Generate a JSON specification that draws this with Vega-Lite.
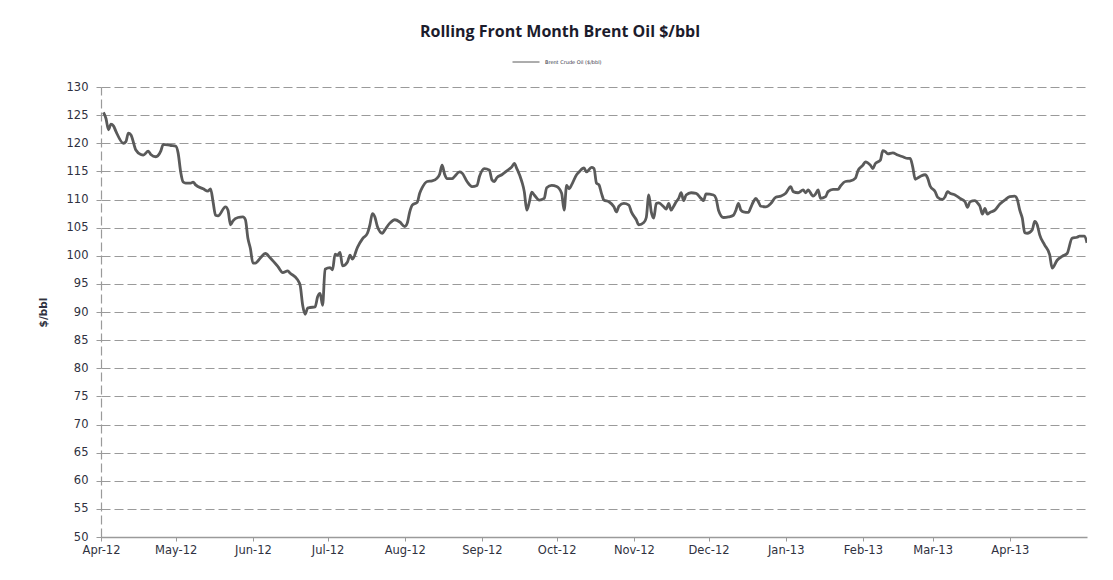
{
  "$schema": "https://vega.github.io/schema/vega-lite/v6.json",
  "width": 986,
  "height": 450,
  "autosize": "none",
  "padding": {"left": 101, "top": 87, "right": 26, "bottom": 43},
  "background": "#ffffff",
  "title": {
    "text": "Rolling Front Month Brent Oil $/bbl",
    "font": "Open Sans",
    "fontSize": 16,
    "fontWeight": "bold",
    "color": "#1c1c2c",
    "anchor": "middle",
    "frame": "group",
    "dx": -34,
    "offset": 8
  },
  "data": {
    "values": [
      {"date": "2012-04-02", "price": 125.5, "series": "Brent Crude Oil ($/bbl)"},
      {"date": "2012-04-03", "price": 124.4, "series": "Brent Crude Oil ($/bbl)"},
      {"date": "2012-04-04", "price": 122.4, "series": "Brent Crude Oil ($/bbl)"},
      {"date": "2012-04-05", "price": 123.4, "series": "Brent Crude Oil ($/bbl)"},
      {"date": "2012-04-06", "price": 123.1, "series": "Brent Crude Oil ($/bbl)"},
      {"date": "2012-04-07", "price": 122.1, "series": "Brent Crude Oil ($/bbl)"},
      {"date": "2012-04-10", "price": 120.0, "series": "Brent Crude Oil ($/bbl)"},
      {"date": "2012-04-11", "price": 120.3, "series": "Brent Crude Oil ($/bbl)"},
      {"date": "2012-04-12", "price": 121.8, "series": "Brent Crude Oil ($/bbl)"},
      {"date": "2012-04-13", "price": 121.5, "series": "Brent Crude Oil ($/bbl)"},
      {"date": "2012-04-15", "price": 118.8, "series": "Brent Crude Oil ($/bbl)"},
      {"date": "2012-04-17", "price": 118.0, "series": "Brent Crude Oil ($/bbl)"},
      {"date": "2012-04-18", "price": 117.9, "series": "Brent Crude Oil ($/bbl)"},
      {"date": "2012-04-20", "price": 118.6, "series": "Brent Crude Oil ($/bbl)"},
      {"date": "2012-04-21", "price": 118.0, "series": "Brent Crude Oil ($/bbl)"},
      {"date": "2012-04-23", "price": 117.6, "series": "Brent Crude Oil ($/bbl)"},
      {"date": "2012-04-25", "price": 118.6, "series": "Brent Crude Oil ($/bbl)"},
      {"date": "2012-04-26", "price": 119.8, "series": "Brent Crude Oil ($/bbl)"},
      {"date": "2012-04-29", "price": 119.6, "series": "Brent Crude Oil ($/bbl)"},
      {"date": "2012-05-01", "price": 119.5, "series": "Brent Crude Oil ($/bbl)"},
      {"date": "2012-05-02", "price": 118.2, "series": "Brent Crude Oil ($/bbl)"},
      {"date": "2012-05-03", "price": 114.9, "series": "Brent Crude Oil ($/bbl)"},
      {"date": "2012-05-04", "price": 113.1, "series": "Brent Crude Oil ($/bbl)"},
      {"date": "2012-05-05", "price": 112.9, "series": "Brent Crude Oil ($/bbl)"},
      {"date": "2012-05-07", "price": 112.9, "series": "Brent Crude Oil ($/bbl)"},
      {"date": "2012-05-08", "price": 113.1, "series": "Brent Crude Oil ($/bbl)"},
      {"date": "2012-05-09", "price": 112.6, "series": "Brent Crude Oil ($/bbl)"},
      {"date": "2012-05-12", "price": 111.9, "series": "Brent Crude Oil ($/bbl)"},
      {"date": "2012-05-14", "price": 111.5, "series": "Brent Crude Oil ($/bbl)"},
      {"date": "2012-05-15", "price": 111.9, "series": "Brent Crude Oil ($/bbl)"},
      {"date": "2012-05-16", "price": 109.6, "series": "Brent Crude Oil ($/bbl)"},
      {"date": "2012-05-17", "price": 107.2, "series": "Brent Crude Oil ($/bbl)"},
      {"date": "2012-05-18", "price": 107.1, "series": "Brent Crude Oil ($/bbl)"},
      {"date": "2012-05-21", "price": 108.7, "series": "Brent Crude Oil ($/bbl)"},
      {"date": "2012-05-22", "price": 108.1, "series": "Brent Crude Oil ($/bbl)"},
      {"date": "2012-05-23", "price": 105.5, "series": "Brent Crude Oil ($/bbl)"},
      {"date": "2012-05-24", "price": 106.2, "series": "Brent Crude Oil ($/bbl)"},
      {"date": "2012-05-26", "price": 106.8, "series": "Brent Crude Oil ($/bbl)"},
      {"date": "2012-05-28", "price": 106.9, "series": "Brent Crude Oil ($/bbl)"},
      {"date": "2012-05-29", "price": 106.4, "series": "Brent Crude Oil ($/bbl)"},
      {"date": "2012-05-30", "price": 103.1, "series": "Brent Crude Oil ($/bbl)"},
      {"date": "2012-05-31", "price": 101.3, "series": "Brent Crude Oil ($/bbl)"},
      {"date": "2012-06-01", "price": 98.7, "series": "Brent Crude Oil ($/bbl)"},
      {"date": "2012-06-02", "price": 98.7, "series": "Brent Crude Oil ($/bbl)"},
      {"date": "2012-06-04", "price": 99.6, "series": "Brent Crude Oil ($/bbl)"},
      {"date": "2012-06-06", "price": 100.4, "series": "Brent Crude Oil ($/bbl)"},
      {"date": "2012-06-08", "price": 99.6, "series": "Brent Crude Oil ($/bbl)"},
      {"date": "2012-06-11", "price": 98.1, "series": "Brent Crude Oil ($/bbl)"},
      {"date": "2012-06-13", "price": 97.0, "series": "Brent Crude Oil ($/bbl)"},
      {"date": "2012-06-15", "price": 97.3, "series": "Brent Crude Oil ($/bbl)"},
      {"date": "2012-06-16", "price": 96.9, "series": "Brent Crude Oil ($/bbl)"},
      {"date": "2012-06-19", "price": 95.7, "series": "Brent Crude Oil ($/bbl)"},
      {"date": "2012-06-20", "price": 94.7, "series": "Brent Crude Oil ($/bbl)"},
      {"date": "2012-06-21", "price": 91.2, "series": "Brent Crude Oil ($/bbl)"},
      {"date": "2012-06-22", "price": 89.6, "series": "Brent Crude Oil ($/bbl)"},
      {"date": "2012-06-23", "price": 90.7, "series": "Brent Crude Oil ($/bbl)"},
      {"date": "2012-06-24", "price": 90.8, "series": "Brent Crude Oil ($/bbl)"},
      {"date": "2012-06-26", "price": 90.9, "series": "Brent Crude Oil ($/bbl)"},
      {"date": "2012-06-27", "price": 92.7, "series": "Brent Crude Oil ($/bbl)"},
      {"date": "2012-06-28", "price": 93.3, "series": "Brent Crude Oil ($/bbl)"},
      {"date": "2012-06-29", "price": 91.2, "series": "Brent Crude Oil ($/bbl)"},
      {"date": "2012-06-30", "price": 97.6, "series": "Brent Crude Oil ($/bbl)"},
      {"date": "2012-07-02", "price": 97.9, "series": "Brent Crude Oil ($/bbl)"},
      {"date": "2012-07-03", "price": 97.5, "series": "Brent Crude Oil ($/bbl)"},
      {"date": "2012-07-04", "price": 100.3, "series": "Brent Crude Oil ($/bbl)"},
      {"date": "2012-07-05", "price": 100.1, "series": "Brent Crude Oil ($/bbl)"},
      {"date": "2012-07-06", "price": 100.6, "series": "Brent Crude Oil ($/bbl)"},
      {"date": "2012-07-07", "price": 98.2, "series": "Brent Crude Oil ($/bbl)"},
      {"date": "2012-07-09", "price": 98.9, "series": "Brent Crude Oil ($/bbl)"},
      {"date": "2012-07-10", "price": 100.1, "series": "Brent Crude Oil ($/bbl)"},
      {"date": "2012-07-11", "price": 99.4, "series": "Brent Crude Oil ($/bbl)"},
      {"date": "2012-07-13", "price": 101.5, "series": "Brent Crude Oil ($/bbl)"},
      {"date": "2012-07-15", "price": 103.0, "series": "Brent Crude Oil ($/bbl)"},
      {"date": "2012-07-17", "price": 104.0, "series": "Brent Crude Oil ($/bbl)"},
      {"date": "2012-07-18", "price": 105.5, "series": "Brent Crude Oil ($/bbl)"},
      {"date": "2012-07-19", "price": 107.5, "series": "Brent Crude Oil ($/bbl)"},
      {"date": "2012-07-20", "price": 106.9, "series": "Brent Crude Oil ($/bbl)"},
      {"date": "2012-07-21", "price": 105.2, "series": "Brent Crude Oil ($/bbl)"},
      {"date": "2012-07-23", "price": 104.0, "series": "Brent Crude Oil ($/bbl)"},
      {"date": "2012-07-24", "price": 104.6, "series": "Brent Crude Oil ($/bbl)"},
      {"date": "2012-07-26", "price": 105.8, "series": "Brent Crude Oil ($/bbl)"},
      {"date": "2012-07-28", "price": 106.4, "series": "Brent Crude Oil ($/bbl)"},
      {"date": "2012-07-30", "price": 106.0, "series": "Brent Crude Oil ($/bbl)"},
      {"date": "2012-08-01", "price": 105.2, "series": "Brent Crude Oil ($/bbl)"},
      {"date": "2012-08-02", "price": 105.8, "series": "Brent Crude Oil ($/bbl)"},
      {"date": "2012-08-03", "price": 107.8, "series": "Brent Crude Oil ($/bbl)"},
      {"date": "2012-08-04", "price": 109.0, "series": "Brent Crude Oil ($/bbl)"},
      {"date": "2012-08-06", "price": 109.5, "series": "Brent Crude Oil ($/bbl)"},
      {"date": "2012-08-07", "price": 111.1, "series": "Brent Crude Oil ($/bbl)"},
      {"date": "2012-08-08", "price": 112.1, "series": "Brent Crude Oil ($/bbl)"},
      {"date": "2012-08-10", "price": 113.2, "series": "Brent Crude Oil ($/bbl)"},
      {"date": "2012-08-12", "price": 113.3, "series": "Brent Crude Oil ($/bbl)"},
      {"date": "2012-08-14", "price": 113.8, "series": "Brent Crude Oil ($/bbl)"},
      {"date": "2012-08-15", "price": 114.5, "series": "Brent Crude Oil ($/bbl)"},
      {"date": "2012-08-16", "price": 116.1, "series": "Brent Crude Oil ($/bbl)"},
      {"date": "2012-08-17", "price": 114.5, "series": "Brent Crude Oil ($/bbl)"},
      {"date": "2012-08-18", "price": 113.7, "series": "Brent Crude Oil ($/bbl)"},
      {"date": "2012-08-20", "price": 113.7, "series": "Brent Crude Oil ($/bbl)"},
      {"date": "2012-08-21", "price": 114.1, "series": "Brent Crude Oil ($/bbl)"},
      {"date": "2012-08-23", "price": 114.9, "series": "Brent Crude Oil ($/bbl)"},
      {"date": "2012-08-24", "price": 114.7, "series": "Brent Crude Oil ($/bbl)"},
      {"date": "2012-08-26", "price": 113.2, "series": "Brent Crude Oil ($/bbl)"},
      {"date": "2012-08-28", "price": 112.3, "series": "Brent Crude Oil ($/bbl)"},
      {"date": "2012-08-30", "price": 112.5, "series": "Brent Crude Oil ($/bbl)"},
      {"date": "2012-08-31", "price": 114.1, "series": "Brent Crude Oil ($/bbl)"},
      {"date": "2012-09-02", "price": 115.5, "series": "Brent Crude Oil ($/bbl)"},
      {"date": "2012-09-04", "price": 115.2, "series": "Brent Crude Oil ($/bbl)"},
      {"date": "2012-09-05", "price": 113.5, "series": "Brent Crude Oil ($/bbl)"},
      {"date": "2012-09-06", "price": 113.2, "series": "Brent Crude Oil ($/bbl)"},
      {"date": "2012-09-07", "price": 113.9, "series": "Brent Crude Oil ($/bbl)"},
      {"date": "2012-09-09", "price": 114.4, "series": "Brent Crude Oil ($/bbl)"},
      {"date": "2012-09-11", "price": 115.1, "series": "Brent Crude Oil ($/bbl)"},
      {"date": "2012-09-13", "price": 115.8, "series": "Brent Crude Oil ($/bbl)"},
      {"date": "2012-09-14", "price": 116.4, "series": "Brent Crude Oil ($/bbl)"},
      {"date": "2012-09-15", "price": 115.5, "series": "Brent Crude Oil ($/bbl)"},
      {"date": "2012-09-17", "price": 113.2, "series": "Brent Crude Oil ($/bbl)"},
      {"date": "2012-09-18", "price": 111.4, "series": "Brent Crude Oil ($/bbl)"},
      {"date": "2012-09-19", "price": 108.1, "series": "Brent Crude Oil ($/bbl)"},
      {"date": "2012-09-20", "price": 109.5, "series": "Brent Crude Oil ($/bbl)"},
      {"date": "2012-09-21", "price": 111.3, "series": "Brent Crude Oil ($/bbl)"},
      {"date": "2012-09-22", "price": 110.8, "series": "Brent Crude Oil ($/bbl)"},
      {"date": "2012-09-24", "price": 109.9, "series": "Brent Crude Oil ($/bbl)"},
      {"date": "2012-09-26", "price": 110.2, "series": "Brent Crude Oil ($/bbl)"},
      {"date": "2012-09-27", "price": 112.1, "series": "Brent Crude Oil ($/bbl)"},
      {"date": "2012-09-29", "price": 112.5, "series": "Brent Crude Oil ($/bbl)"},
      {"date": "2012-10-01", "price": 112.3, "series": "Brent Crude Oil ($/bbl)"},
      {"date": "2012-10-03", "price": 111.1, "series": "Brent Crude Oil ($/bbl)"},
      {"date": "2012-10-04", "price": 108.1, "series": "Brent Crude Oil ($/bbl)"},
      {"date": "2012-10-05", "price": 112.5, "series": "Brent Crude Oil ($/bbl)"},
      {"date": "2012-10-06", "price": 111.9, "series": "Brent Crude Oil ($/bbl)"},
      {"date": "2012-10-07", "price": 112.6, "series": "Brent Crude Oil ($/bbl)"},
      {"date": "2012-10-09", "price": 114.4, "series": "Brent Crude Oil ($/bbl)"},
      {"date": "2012-10-10", "price": 114.9, "series": "Brent Crude Oil ($/bbl)"},
      {"date": "2012-10-12", "price": 115.6, "series": "Brent Crude Oil ($/bbl)"},
      {"date": "2012-10-13", "price": 114.9, "series": "Brent Crude Oil ($/bbl)"},
      {"date": "2012-10-15", "price": 115.7, "series": "Brent Crude Oil ($/bbl)"},
      {"date": "2012-10-16", "price": 115.5, "series": "Brent Crude Oil ($/bbl)"},
      {"date": "2012-10-17", "price": 112.9, "series": "Brent Crude Oil ($/bbl)"},
      {"date": "2012-10-18", "price": 112.6, "series": "Brent Crude Oil ($/bbl)"},
      {"date": "2012-10-19", "price": 111.1, "series": "Brent Crude Oil ($/bbl)"},
      {"date": "2012-10-20", "price": 109.9, "series": "Brent Crude Oil ($/bbl)"},
      {"date": "2012-10-22", "price": 109.6, "series": "Brent Crude Oil ($/bbl)"},
      {"date": "2012-10-24", "price": 108.7, "series": "Brent Crude Oil ($/bbl)"},
      {"date": "2012-10-25", "price": 107.8, "series": "Brent Crude Oil ($/bbl)"},
      {"date": "2012-10-26", "price": 108.8, "series": "Brent Crude Oil ($/bbl)"},
      {"date": "2012-10-28", "price": 109.3, "series": "Brent Crude Oil ($/bbl)"},
      {"date": "2012-10-30", "price": 109.0, "series": "Brent Crude Oil ($/bbl)"},
      {"date": "2012-10-31", "price": 107.8, "series": "Brent Crude Oil ($/bbl)"},
      {"date": "2012-11-02", "price": 106.4, "series": "Brent Crude Oil ($/bbl)"},
      {"date": "2012-11-03", "price": 105.5, "series": "Brent Crude Oil ($/bbl)"},
      {"date": "2012-11-05", "price": 105.9, "series": "Brent Crude Oil ($/bbl)"},
      {"date": "2012-11-06", "price": 106.8, "series": "Brent Crude Oil ($/bbl)"},
      {"date": "2012-11-07", "price": 110.8, "series": "Brent Crude Oil ($/bbl)"},
      {"date": "2012-11-08", "price": 107.8, "series": "Brent Crude Oil ($/bbl)"},
      {"date": "2012-11-09", "price": 106.7, "series": "Brent Crude Oil ($/bbl)"},
      {"date": "2012-11-10", "price": 109.3, "series": "Brent Crude Oil ($/bbl)"},
      {"date": "2012-11-11", "price": 109.4, "series": "Brent Crude Oil ($/bbl)"},
      {"date": "2012-11-13", "price": 108.7, "series": "Brent Crude Oil ($/bbl)"},
      {"date": "2012-11-14", "price": 108.3, "series": "Brent Crude Oil ($/bbl)"},
      {"date": "2012-11-15", "price": 109.3, "series": "Brent Crude Oil ($/bbl)"},
      {"date": "2012-11-16", "price": 108.1, "series": "Brent Crude Oil ($/bbl)"},
      {"date": "2012-11-17", "price": 108.8, "series": "Brent Crude Oil ($/bbl)"},
      {"date": "2012-11-18", "price": 109.6, "series": "Brent Crude Oil ($/bbl)"},
      {"date": "2012-11-19", "price": 110.2, "series": "Brent Crude Oil ($/bbl)"},
      {"date": "2012-11-20", "price": 111.2, "series": "Brent Crude Oil ($/bbl)"},
      {"date": "2012-11-21", "price": 109.8, "series": "Brent Crude Oil ($/bbl)"},
      {"date": "2012-11-22", "price": 110.8, "series": "Brent Crude Oil ($/bbl)"},
      {"date": "2012-11-24", "price": 111.2, "series": "Brent Crude Oil ($/bbl)"},
      {"date": "2012-11-26", "price": 111.1, "series": "Brent Crude Oil ($/bbl)"},
      {"date": "2012-11-28", "price": 110.2, "series": "Brent Crude Oil ($/bbl)"},
      {"date": "2012-11-29", "price": 109.8, "series": "Brent Crude Oil ($/bbl)"},
      {"date": "2012-11-30", "price": 111.0, "series": "Brent Crude Oil ($/bbl)"},
      {"date": "2012-12-03", "price": 110.8, "series": "Brent Crude Oil ($/bbl)"},
      {"date": "2012-12-04", "price": 110.2, "series": "Brent Crude Oil ($/bbl)"},
      {"date": "2012-12-05", "price": 108.1, "series": "Brent Crude Oil ($/bbl)"},
      {"date": "2012-12-07", "price": 106.8, "series": "Brent Crude Oil ($/bbl)"},
      {"date": "2012-12-09", "price": 106.9, "series": "Brent Crude Oil ($/bbl)"},
      {"date": "2012-12-11", "price": 107.2, "series": "Brent Crude Oil ($/bbl)"},
      {"date": "2012-12-12", "price": 108.1, "series": "Brent Crude Oil ($/bbl)"},
      {"date": "2012-12-13", "price": 109.3, "series": "Brent Crude Oil ($/bbl)"},
      {"date": "2012-12-14", "price": 108.1, "series": "Brent Crude Oil ($/bbl)"},
      {"date": "2012-12-15", "price": 107.8, "series": "Brent Crude Oil ($/bbl)"},
      {"date": "2012-12-17", "price": 107.7, "series": "Brent Crude Oil ($/bbl)"},
      {"date": "2012-12-18", "price": 108.6, "series": "Brent Crude Oil ($/bbl)"},
      {"date": "2012-12-19", "price": 109.6, "series": "Brent Crude Oil ($/bbl)"},
      {"date": "2012-12-20", "price": 110.2, "series": "Brent Crude Oil ($/bbl)"},
      {"date": "2012-12-21", "price": 109.6, "series": "Brent Crude Oil ($/bbl)"},
      {"date": "2012-12-22", "price": 108.8, "series": "Brent Crude Oil ($/bbl)"},
      {"date": "2012-12-24", "price": 108.7, "series": "Brent Crude Oil ($/bbl)"},
      {"date": "2012-12-26", "price": 109.3, "series": "Brent Crude Oil ($/bbl)"},
      {"date": "2012-12-28", "price": 110.4, "series": "Brent Crude Oil ($/bbl)"},
      {"date": "2012-12-30", "price": 110.6, "series": "Brent Crude Oil ($/bbl)"},
      {"date": "2013-01-01", "price": 111.1, "series": "Brent Crude Oil ($/bbl)"},
      {"date": "2013-01-03", "price": 112.3, "series": "Brent Crude Oil ($/bbl)"},
      {"date": "2013-01-04", "price": 111.4, "series": "Brent Crude Oil ($/bbl)"},
      {"date": "2013-01-06", "price": 111.2, "series": "Brent Crude Oil ($/bbl)"},
      {"date": "2013-01-08", "price": 111.7, "series": "Brent Crude Oil ($/bbl)"},
      {"date": "2013-01-09", "price": 111.2, "series": "Brent Crude Oil ($/bbl)"},
      {"date": "2013-01-10", "price": 111.7, "series": "Brent Crude Oil ($/bbl)"},
      {"date": "2013-01-12", "price": 110.6, "series": "Brent Crude Oil ($/bbl)"},
      {"date": "2013-01-13", "price": 111.0, "series": "Brent Crude Oil ($/bbl)"},
      {"date": "2013-01-14", "price": 111.7, "series": "Brent Crude Oil ($/bbl)"},
      {"date": "2013-01-15", "price": 110.2, "series": "Brent Crude Oil ($/bbl)"},
      {"date": "2013-01-17", "price": 110.5, "series": "Brent Crude Oil ($/bbl)"},
      {"date": "2013-01-18", "price": 111.4, "series": "Brent Crude Oil ($/bbl)"},
      {"date": "2013-01-20", "price": 111.8, "series": "Brent Crude Oil ($/bbl)"},
      {"date": "2013-01-22", "price": 111.8, "series": "Brent Crude Oil ($/bbl)"},
      {"date": "2013-01-23", "price": 112.4, "series": "Brent Crude Oil ($/bbl)"},
      {"date": "2013-01-25", "price": 113.2, "series": "Brent Crude Oil ($/bbl)"},
      {"date": "2013-01-27", "price": 113.3, "series": "Brent Crude Oil ($/bbl)"},
      {"date": "2013-01-29", "price": 113.8, "series": "Brent Crude Oil ($/bbl)"},
      {"date": "2013-01-30", "price": 115.1, "series": "Brent Crude Oil ($/bbl)"},
      {"date": "2013-02-01", "price": 116.1, "series": "Brent Crude Oil ($/bbl)"},
      {"date": "2013-02-02", "price": 116.7, "series": "Brent Crude Oil ($/bbl)"},
      {"date": "2013-02-04", "price": 116.1, "series": "Brent Crude Oil ($/bbl)"},
      {"date": "2013-02-05", "price": 115.5, "series": "Brent Crude Oil ($/bbl)"},
      {"date": "2013-02-06", "price": 116.4, "series": "Brent Crude Oil ($/bbl)"},
      {"date": "2013-02-08", "price": 117.0, "series": "Brent Crude Oil ($/bbl)"},
      {"date": "2013-02-09", "price": 118.7, "series": "Brent Crude Oil ($/bbl)"},
      {"date": "2013-02-10", "price": 118.5, "series": "Brent Crude Oil ($/bbl)"},
      {"date": "2013-02-11", "price": 118.1, "series": "Brent Crude Oil ($/bbl)"},
      {"date": "2013-02-13", "price": 118.3, "series": "Brent Crude Oil ($/bbl)"},
      {"date": "2013-02-15", "price": 117.9, "series": "Brent Crude Oil ($/bbl)"},
      {"date": "2013-02-17", "price": 117.6, "series": "Brent Crude Oil ($/bbl)"},
      {"date": "2013-02-19", "price": 117.3, "series": "Brent Crude Oil ($/bbl)"},
      {"date": "2013-02-20", "price": 117.3, "series": "Brent Crude Oil ($/bbl)"},
      {"date": "2013-02-21", "price": 115.8, "series": "Brent Crude Oil ($/bbl)"},
      {"date": "2013-02-22", "price": 113.6, "series": "Brent Crude Oil ($/bbl)"},
      {"date": "2013-02-24", "price": 114.1, "series": "Brent Crude Oil ($/bbl)"},
      {"date": "2013-02-26", "price": 114.4, "series": "Brent Crude Oil ($/bbl)"},
      {"date": "2013-02-27", "price": 113.8, "series": "Brent Crude Oil ($/bbl)"},
      {"date": "2013-02-28", "price": 112.4, "series": "Brent Crude Oil ($/bbl)"},
      {"date": "2013-03-02", "price": 111.4, "series": "Brent Crude Oil ($/bbl)"},
      {"date": "2013-03-03", "price": 110.4, "series": "Brent Crude Oil ($/bbl)"},
      {"date": "2013-03-05", "price": 110.0, "series": "Brent Crude Oil ($/bbl)"},
      {"date": "2013-03-06", "price": 110.5, "series": "Brent Crude Oil ($/bbl)"},
      {"date": "2013-03-07", "price": 111.4, "series": "Brent Crude Oil ($/bbl)"},
      {"date": "2013-03-08", "price": 111.1, "series": "Brent Crude Oil ($/bbl)"},
      {"date": "2013-03-10", "price": 110.8, "series": "Brent Crude Oil ($/bbl)"},
      {"date": "2013-03-12", "price": 110.2, "series": "Brent Crude Oil ($/bbl)"},
      {"date": "2013-03-14", "price": 109.6, "series": "Brent Crude Oil ($/bbl)"},
      {"date": "2013-03-15", "price": 108.6, "series": "Brent Crude Oil ($/bbl)"},
      {"date": "2013-03-16", "price": 109.6, "series": "Brent Crude Oil ($/bbl)"},
      {"date": "2013-03-18", "price": 109.8, "series": "Brent Crude Oil ($/bbl)"},
      {"date": "2013-03-19", "price": 109.4, "series": "Brent Crude Oil ($/bbl)"},
      {"date": "2013-03-20", "price": 108.8, "series": "Brent Crude Oil ($/bbl)"},
      {"date": "2013-03-21", "price": 107.4, "series": "Brent Crude Oil ($/bbl)"},
      {"date": "2013-03-22", "price": 108.4, "series": "Brent Crude Oil ($/bbl)"},
      {"date": "2013-03-23", "price": 107.4, "series": "Brent Crude Oil ($/bbl)"},
      {"date": "2013-03-24", "price": 107.7, "series": "Brent Crude Oil ($/bbl)"},
      {"date": "2013-03-26", "price": 108.1, "series": "Brent Crude Oil ($/bbl)"},
      {"date": "2013-03-28", "price": 109.2, "series": "Brent Crude Oil ($/bbl)"},
      {"date": "2013-03-30", "price": 109.9, "series": "Brent Crude Oil ($/bbl)"},
      {"date": "2013-04-01", "price": 110.5, "series": "Brent Crude Oil ($/bbl)"},
      {"date": "2013-04-03", "price": 110.6, "series": "Brent Crude Oil ($/bbl)"},
      {"date": "2013-04-04", "price": 110.0, "series": "Brent Crude Oil ($/bbl)"},
      {"date": "2013-04-05", "price": 108.1, "series": "Brent Crude Oil ($/bbl)"},
      {"date": "2013-04-06", "price": 106.7, "series": "Brent Crude Oil ($/bbl)"},
      {"date": "2013-04-07", "price": 104.1, "series": "Brent Crude Oil ($/bbl)"},
      {"date": "2013-04-08", "price": 104.0, "series": "Brent Crude Oil ($/bbl)"},
      {"date": "2013-04-10", "price": 104.6, "series": "Brent Crude Oil ($/bbl)"},
      {"date": "2013-04-11", "price": 106.1, "series": "Brent Crude Oil ($/bbl)"},
      {"date": "2013-04-12", "price": 105.5, "series": "Brent Crude Oil ($/bbl)"},
      {"date": "2013-04-13", "price": 103.7, "series": "Brent Crude Oil ($/bbl)"},
      {"date": "2013-04-15", "price": 101.9, "series": "Brent Crude Oil ($/bbl)"},
      {"date": "2013-04-17", "price": 100.2, "series": "Brent Crude Oil ($/bbl)"},
      {"date": "2013-04-18", "price": 97.8, "series": "Brent Crude Oil ($/bbl)"},
      {"date": "2013-04-20", "price": 99.2, "series": "Brent Crude Oil ($/bbl)"},
      {"date": "2013-04-22", "price": 99.9, "series": "Brent Crude Oil ($/bbl)"},
      {"date": "2013-04-24", "price": 100.4, "series": "Brent Crude Oil ($/bbl)"},
      {"date": "2013-04-26", "price": 103.1, "series": "Brent Crude Oil ($/bbl)"},
      {"date": "2013-04-28", "price": 103.3, "series": "Brent Crude Oil ($/bbl)"},
      {"date": "2013-04-29", "price": 103.5, "series": "Brent Crude Oil ($/bbl)"},
      {"date": "2013-05-01", "price": 103.5, "series": "Brent Crude Oil ($/bbl)"},
      {"date": "2013-05-02", "price": 102.3, "series": "Brent Crude Oil ($/bbl)"}
    ]
  },
  "mark": {"type": "line", "strokeWidth": 2.8, "interpolate": "monotone", "clip": true},
  "encoding": {
    "x": {
      "field": "date",
      "type": "temporal",
      "scale": {
        "type": "utc",
        "domain": [
          {"year": 2012, "month": 4, "date": 1, "utc": true},
          {"year": 2013, "month": 5, "date": 2, "utc": true}
        ]
      },
      "axis": {
        "title": null,
        "format": "%b-%y",
        "values": [
          {"year": 2012, "month": 4, "date": 1, "utc": true},
          {"year": 2012, "month": 5, "date": 1, "utc": true},
          {"year": 2012, "month": 6, "date": 1, "utc": true},
          {"year": 2012, "month": 7, "date": 1, "utc": true},
          {"year": 2012, "month": 8, "date": 1, "utc": true},
          {"year": 2012, "month": 9, "date": 1, "utc": true},
          {"year": 2012, "month": 10, "date": 1, "utc": true},
          {"year": 2012, "month": 11, "date": 1, "utc": true},
          {"year": 2012, "month": 12, "date": 1, "utc": true},
          {"year": 2013, "month": 1, "date": 1, "utc": true},
          {"year": 2013, "month": 2, "date": 1, "utc": true},
          {"year": 2013, "month": 3, "date": 1, "utc": true},
          {"year": 2013, "month": 4, "date": 1, "utc": true}
        ],
        "grid": false,
        "domainColor": "#9a9a9a",
        "domainWidth": 1.5,
        "tickColor": "#9a9a9a",
        "tickSize": 4,
        "labelPadding": 3,
        "labelFont": "DejaVu Sans",
        "labelFontSize": 11.5,
        "labelColor": "#2f3140",
        "labelFlush": false
      }
    },
    "y": {
      "field": "price",
      "type": "quantitative",
      "scale": {"domain": [50, 130], "nice": false, "zero": false},
      "axis": {
        "title": "$/bbl",
        "titleFont": "DejaVu Sans",
        "titleFontSize": 10.5,
        "titleFontWeight": "bold",
        "titleColor": "#2f3140",
        "titlePadding": 18,
        "values": [50, 55, 60, 65, 70, 75, 80, 85, 90, 95, 100, 105, 110, 115, 120, 125, 130],
        "grid": true,
        "gridColor": "#9a9a9a",
        "gridDash": [9, 4],
        "gridWidth": 1.2,
        "domainColor": "#9a9a9a",
        "domainDash": [9, 4],
        "domainWidth": 1.2,
        "tickColor": "#9a9a9a",
        "tickSize": 5,
        "labelPadding": 8,
        "labelFont": "DejaVu Sans",
        "labelFontSize": 11.5,
        "labelColor": "#2f3140"
      }
    },
    "color": {
      "field": "series",
      "type": "nominal",
      "scale": {"range": ["#5a5a5a"]},
      "legend": {
        "title": null,
        "orient": "none",
        "legendX": 411,
        "legendY": -39,
        "symbolType": "stroke",
        "symbolSize": 729,
        "symbolStrokeWidth": 1,
        "labelFont": "DejaVu Sans",
        "labelFontSize": 5,
        "labelColor": "#2f3140",
        "labelOffset": 5
      }
    }
  },
  "config": {
    "view": {"stroke": null}
  }
}
